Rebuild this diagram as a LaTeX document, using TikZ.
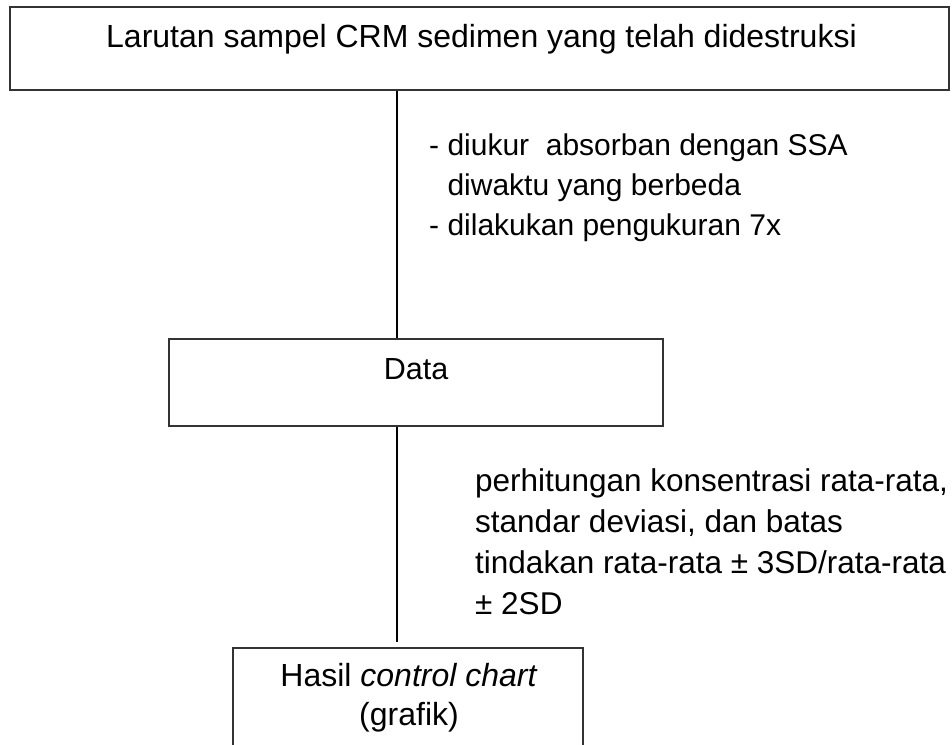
\documentclass[tikz,border=0pt]{standalone}
\usepackage{fontspec}
\setmainfont{Liberation Sans}
\begin{document}
\begin{tikzpicture}[x=1pt,y=-1pt,
  box/.style={draw=black!80, line width=1.4pt, rectangle, inner sep=0pt},
  txt/.style={font=\fontsize{30.5}{40}\selectfont, inner sep=0pt},
  lbl/.style={txt, align=left, anchor=north west},
  conn/.style={draw=black, line width=2.6pt}]
\path[use as bounding box] (0,0) rectangle (952,744);
\clip (0,0) rectangle (952,744);
% boxes
\node[box, minimum width=939pt, minimum height=83pt] (top) at (479.5,48.5) {};
\node[box, minimum width=494pt, minimum height=87pt] (data) at (416,382.5) {};
\node[box, minimum width=350pt, minimum height=142pt] (hasil) at (408,719) {};
% box texts
\node[txt, anchor=base, font=\fontsize{32}{40}\selectfont] (ttop) at (481.5,47) {Larutan sampel CRM sedimen yang telah didestruksi};
\node[txt, anchor=base] (tdata) at (416,379) {Data};
\node[txt, anchor=base, font=\fontsize{32}{40}\selectfont] (thasil1) at (409,686) {Hasil \textit{control chart}};
\node[txt, anchor=base, font=\fontsize{32}{40}\selectfont] (thasil2) at (409,725) {(grafik)};
% connectors
\coordinate (axis) at (397,0);
\coordinate (end2) at (397,642);
\draw[conn] (top.south -| axis) -- (data.north -| axis);
\draw[conn] (data.south -| axis) -- (end2);
% labels
\node[lbl, font=\fontsize{30}{40}\selectfont] (l1) at (429,134) {- diukur\ \ absorban dengan SSA\\\hphantom{-}\ diwaktu yang berbeda\\- dilakukan pengukuran 7x};
\node[lbl, font=\fontsize{31.5}{41}\selectfont] (l2) at (475,468) {perhitungan konsentrasi rata-rata,\\standar deviasi, dan batas\\tindakan rata-rata ± 3SD/rata-rata\\± 2SD};
\end{tikzpicture}
\end{document}
